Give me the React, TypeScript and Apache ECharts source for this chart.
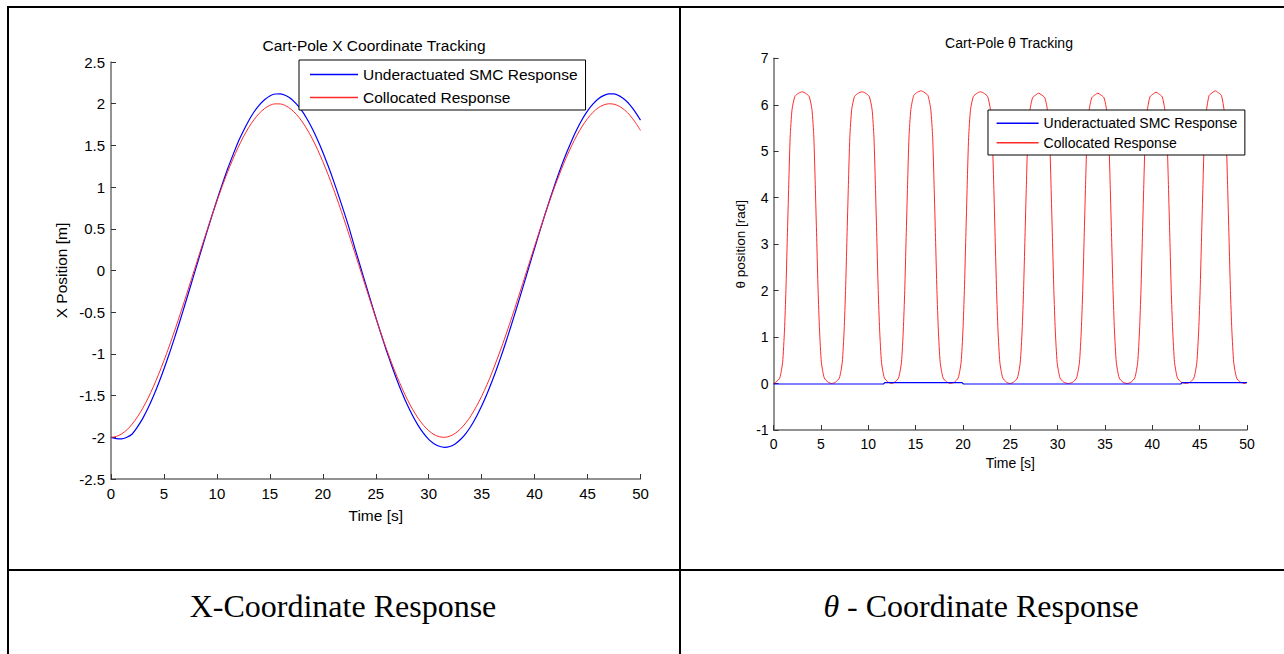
import React, { useEffect, useRef } from "react";
import * as echarts from "echarts";

const SANS = '"Liberation Sans", Arial, Helvetica, sans-serif';
const SERIF = '"Liberation Serif", "Times New Roman", Times, serif';

// ---------- data ----------
const SMC_NAME = "Underactuated SMC Response";
const COLLOC_NAME = "Collocated Response";
const legendNames = [SMC_NAME, COLLOC_NAME];

const leftTitle = "Cart-Pole X Coordinate Tracking";
const rightTitle = "Cart-Pole \u03b8 Tracking";
const leftCaption = "X-Coordinate Response";

// X coordinate chart (time step 0.5 s)
const timeX = [
  0, 0.5, 1, 1.5, 2, 2.5, 3, 3.5, 4, 4.5, 5, 5.5, 6, 6.5, 7, 7.5, 8, 8.5, 9, 9.5,
  10, 10.5, 11, 11.5, 12, 12.5, 13, 13.5, 14, 14.5, 15, 15.5, 16, 16.5, 17, 17.5, 18, 18.5, 19, 19.5,
  20, 20.5, 21, 21.5, 22, 22.5, 23, 23.5, 24, 24.5, 25, 25.5, 26, 26.5, 27, 27.5, 28, 28.5, 29, 29.5,
  30, 30.5, 31, 31.5, 32, 32.5, 33, 33.5, 34, 34.5, 35, 35.5, 36, 36.5, 37, 37.5, 38, 38.5, 39, 39.5,
  40, 40.5, 41, 41.5, 42, 42.5, 43, 43.5, 44, 44.5, 45, 45.5, 46, 46.5, 47, 47.5, 48, 48.5, 49, 49.5,
  50,
];
const xSMC = [
  -2.0, -2.015, -2.02, -2.0, -1.96, -1.875, -1.773, -1.649, -1.507, -1.351,
  -1.181, -0.999, -0.808, -0.608, -0.402, -0.192, 0.02, 0.231, 0.44, 0.645,
  0.843, 1.033, 1.215, 1.38, 1.539, 1.672, 1.795, 1.9, 1.984, 2.048,
  2.093, 2.116, 2.118, 2.099, 2.06, 1.997, 1.919, 1.82, 1.703, 1.568,
  1.419, 1.255, 1.081, 0.895, 0.703, 0.503, 0.28, 0.069, -0.143, -0.354,
  -0.561, -0.762, -0.956, -1.14, -1.313, -1.472, -1.617, -1.745, -1.857, -1.95,
  -2.024, -2.076, -2.108, -2.12, -2.11, -2.079, -2.027, -1.955, -1.864, -1.753,
  -1.626, -1.482, -1.323, -1.151, -0.968, -0.775, -0.574, -0.367, -0.157, 0.055,
  0.267, 0.475, 0.68, 0.876, 1.064, 1.242, 1.405, 1.557, 1.693, 1.813,
  1.913, 1.994, 2.057, 2.097, 2.118, 2.118, 2.094, 2.05, 1.987, 1.903,
  1.803,
];
const xCollocated = [
  -2.0, -1.99, -1.96, -1.911, -1.842, -1.755, -1.651, -1.53, -1.393, -1.243,
  -1.081, -0.907, -0.725, -0.535, -0.34, -0.141, 0.058, 0.258, 0.454, 0.647,
  0.832, 1.01, 1.177, 1.333, 1.475, 1.602, 1.714, 1.808, 1.884, 1.942,
  1.98, 1.998, 1.997, 1.975, 1.934, 1.873, 1.794, 1.696, 1.582, 1.452,
  1.307, 1.15, 0.981, 0.802, 0.615, 0.422, 0.224, 0.025, -0.175, -0.373,
  -0.567, -0.756, -0.937, -1.109, -1.269, -1.417, -1.551, -1.669, -1.771, -1.855,
  -1.92, -1.967, -1.993, -2.0, -1.986, -1.953, -1.9, -1.829, -1.739, -1.631,
  -1.508, -1.37, -1.217, -1.05, -0.877, -0.693, -0.503, -0.307, -0.108, 0.092,
  0.291, 0.487, 0.678, 0.863, 1.039, 1.204, 1.357, 1.497, 1.622, 1.731,
  1.822, 1.895, 1.95, 1.984, 1.999, 1.994, 1.969, 1.925, 1.861, 1.778,
  1.678,
];

// Theta chart, collocated response (pulse by pulse)
const thetaTime = [
  0, 0.25, 0.65, 0.95, 1.15, 1.3, 1.45, 1.6, 1.75, 1.95, 2.25, 2.65, 3.05, 3.35, 3.75, 4.05, 4.25, 4.4, 4.55, 4.7, 4.85, 5.05, 5.35, 5.75, 6.15,
  6.55, 6.95, 7.25, 7.45, 7.6, 7.75, 7.9, 8.05, 8.25, 8.55, 8.95, 9.35, 9.7, 10.1, 10.4, 10.6, 10.75, 10.9, 11.05, 11.2, 11.4, 11.7, 12.1, 12.45,
  12.8, 13.2, 13.5, 13.7, 13.85, 14.0, 14.15, 14.3, 14.5, 14.8, 15.2, 15.55, 15.9, 16.3, 16.6, 16.8, 16.95, 17.1, 17.25, 17.4, 17.6, 17.9, 18.3, 18.7,
  19.1, 19.5, 19.8, 20.0, 20.15, 20.3, 20.45, 20.6, 20.8, 21.1, 21.5, 21.85, 22.2, 22.6, 22.9, 23.1, 23.25, 23.4, 23.55, 23.7, 23.9, 24.2, 24.6, 24.97,
  25.35, 25.75, 26.05, 26.25, 26.4, 26.55, 26.7, 26.85, 27.05, 27.35, 27.75, 28.0, 28.25, 28.65, 28.95, 29.15, 29.3, 29.45, 29.6, 29.75, 29.95, 30.25, 30.65, 31.12,
  31.6, 32.0, 32.3, 32.5, 32.65, 32.8, 32.95, 33.1, 33.3, 33.6, 34.0, 34.25, 34.5, 34.9, 35.2, 35.4, 35.55, 35.7, 35.85, 36.0, 36.2, 36.5, 36.9, 37.33,
  37.75, 38.15, 38.45, 38.65, 38.8, 38.95, 39.1, 39.25, 39.45, 39.75, 40.15, 40.4, 40.65, 41.05, 41.35, 41.55, 41.7, 41.85, 42.0, 42.15, 42.35, 42.65, 43.05, 43.52,
  44.0, 44.4, 44.7, 44.9, 45.05, 45.2, 45.35, 45.5, 45.7, 46.0, 46.4, 46.65, 46.9, 47.3, 47.6, 47.8, 47.95, 48.1, 48.25, 48.4, 48.6, 48.9, 49.3, 49.8, 50,
];
const thetaCollocated = [
  0, 0.03, 0.12, 0.45, 1.15, 2.0, 3.14, 4.28, 5.3, 5.9, 6.18, 6.25, 6.28, 6.25, 6.18, 5.9, 5.3, 4.28, 3.14, 2.0, 1.15, 0.45, 0.12, 0.03, 0.0,
  0.03, 0.12, 0.45, 1.15, 2.0, 3.14, 4.28, 5.3, 5.9, 6.18, 6.25, 6.28, 6.25, 6.18, 5.9, 5.3, 4.28, 3.14, 2.0, 1.15, 0.45, 0.12, 0.03, 0.0,
  0.03, 0.12, 0.45, 1.15, 2.0, 3.14, 4.28, 5.3, 5.9, 6.2, 6.27, 6.3, 6.27, 6.2, 5.9, 5.3, 4.28, 3.14, 2.0, 1.15, 0.45, 0.12, 0.03, 0.0,
  0.03, 0.12, 0.45, 1.15, 2.0, 3.14, 4.28, 5.3, 5.9, 6.18, 6.25, 6.28, 6.25, 6.18, 5.9, 5.3, 4.28, 3.14, 2.0, 1.15, 0.45, 0.12, 0.03, 0.0,
  0.03, 0.12, 0.45, 1.15, 2.0, 3.14, 4.28, 5.3, 5.85, 6.15, 6.22, 6.25, 6.22, 6.15, 5.85, 5.3, 4.28, 3.14, 2.0, 1.15, 0.45, 0.12, 0.03, 0.0,
  0.03, 0.12, 0.45, 1.15, 2.0, 3.14, 4.28, 5.3, 5.85, 6.15, 6.22, 6.25, 6.22, 6.15, 5.85, 5.3, 4.28, 3.14, 2.0, 1.15, 0.45, 0.12, 0.03, 0.0,
  0.03, 0.12, 0.45, 1.15, 2.0, 3.14, 4.28, 5.3, 5.85, 6.17, 6.24, 6.27, 6.24, 6.17, 5.85, 5.3, 4.28, 3.14, 2.0, 1.15, 0.45, 0.12, 0.03, 0.0,
  0.03, 0.12, 0.45, 1.15, 2.0, 3.14, 4.28, 5.3, 5.85, 6.2, 6.27, 6.3, 6.27, 6.2, 5.85, 5.3, 4.28, 3.14, 2.0, 1.15, 0.45, 0.12, 0.03, 0.0, 0.03,
];

// Theta chart, underactuated SMC response (near zero, small steps)
const thetaSMCTime = [0, 11.6, 11.75, 19.9, 20.05, 43.0, 43.15, 50];
const thetaSMC = [-0.01, -0.01, 0.02, 0.02, -0.01, -0.01, 0.02, 0.02];

// ---------- helpers ----------
const pairs = (t: number[], v: number[]) => t.map((x, i) => [x, v[i]]);

const BLUE = "#0000ff";
const RED = "#ff2a2a";

function axisBase(labelSize: number, margin: number) {
  return {
    type: "value" as const,
    axisLine: { show: true, onZero: false, lineStyle: { color: "#6e6e6e", width: 1.5 } },
    axisTick: { show: true, inside: true, length: 5, lineStyle: { color: "#333", width: 1 } },
    splitLine: { show: false },
    axisLabel: { fontSize: labelSize, color: "#000", fontFamily: SANS, margin },
  };
}

function textEl(x: number, y: number, text: string, fontSize: number, fontFamily: string, extra: any = {}) {
  return {
    type: "text",
    x,
    y,
    style: {
      text,
      fontSize,
      fontFamily,
      fill: "#000",
      align: "center",
      verticalAlign: "middle",
      textAlign: "center",
      textVerticalAlign: "middle",
      ...extra,
    },
  };
}

export default function App() {
  const ref = useRef<HTMLDivElement>(null);

  useEffect(() => {
    if (!ref.current) return;
    const chart = echarts.init(ref.current, null, { renderer: "svg" });

    const option: any = {
      animation: false,
      backgroundColor: "#fff",
      grid: [
        { left: 111, top: 62, width: 529.5, height: 417, outerBoundsMode: "none", containLabel: false },
        { left: 773.6, top: 58.3, width: 473.4, height: 371.7, outerBoundsMode: "none", containLabel: false },
      ],
      xAxis: [
        {
          ...axisBase(15, 7),
          gridIndex: 0,
          min: 0,
          max: 50,
          interval: 5,
          name: "Time [s]",
          nameLocation: "middle",
          nameGap: 28,
          nameTextStyle: { fontSize: 15.5, color: "#000", fontFamily: SANS },
        },
        {
          ...axisBase(14, 7),
          gridIndex: 1,
          min: 0,
          max: 50,
          interval: 5,
          name: "Time [s]",
          nameLocation: "middle",
          nameGap: 25,
          nameTextStyle: { fontSize: 14, color: "#000", fontFamily: SANS },
        },
      ],
      yAxis: [
        {
          ...axisBase(15, 6),
          gridIndex: 0,
          min: -2.5,
          max: 2.5,
          interval: 0.5,
          name: "X Position [m]",
          nameLocation: "middle",
          nameRotate: 90,
          nameGap: 42,
          nameTextStyle: { fontSize: 15.5, color: "#000", fontFamily: SANS },
        },
        {
          ...axisBase(14, 5),
          gridIndex: 1,
          min: -1,
          max: 7,
          interval: 1,
          name: "\u03b8 position [rad]",
          nameLocation: "middle",
          nameRotate: 90,
          nameGap: 26,
          nameTextStyle: { fontSize: 13.5, color: "#000", fontFamily: SANS },
        },
      ],
      legend: [
        {
          data: legendNames,
          orient: "vertical",
          left: 299,
          top: 60,
          padding: [5.5, 8, 3.5, 11],
          itemWidth: 48,
          itemHeight: 1.5,
          itemGap: 5,
          icon: "rect",
          borderColor: "#000",
          borderWidth: 1,
          backgroundColor: "#fff",
          selectedMode: false,
          textStyle: { fontSize: 15.5, lineHeight: 18, color: "#000", fontFamily: SANS },
          z: 10,
        },
        {
          data: legendNames,
          orient: "vertical",
          left: 988,
          top: 110,
          padding: [5.3, 7.5, 4.3, 8.6],
          itemWidth: 42,
          itemHeight: 1.5,
          itemGap: 3.4,
          icon: "rect",
          borderColor: "#000",
          borderWidth: 1,
          backgroundColor: "#fff",
          selectedMode: false,
          textStyle: { fontSize: 14, lineHeight: 16, color: "#000", fontFamily: SANS },
          z: 10,
        },
      ],
      series: [
        {
          name: SMC_NAME,
          type: "line",
          xAxisIndex: 0,
          yAxisIndex: 0,
          data: pairs(timeX, xSMC),
          symbol: "none",
          showSymbol: false,
          smooth: 0.3,
          lineStyle: { color: BLUE, width: 1.2 },
          itemStyle: { color: BLUE },
        },
        {
          name: COLLOC_NAME,
          type: "line",
          xAxisIndex: 0,
          yAxisIndex: 0,
          data: pairs(timeX, xCollocated),
          symbol: "none",
          showSymbol: false,
          smooth: 0.3,
          lineStyle: { color: RED, width: 1 },
          itemStyle: { color: RED },
        },
        {
          name: COLLOC_NAME,
          type: "line",
          xAxisIndex: 1,
          yAxisIndex: 1,
          data: pairs(thetaTime, thetaCollocated),
          symbol: "none",
          showSymbol: false,
          smooth: 0.2,
          lineStyle: { color: RED, width: 1 },
          itemStyle: { color: RED },
        },
        {
          name: SMC_NAME,
          type: "line",
          xAxisIndex: 1,
          yAxisIndex: 1,
          data: pairs(thetaSMCTime, thetaSMC),
          symbol: "none",
          showSymbol: false,
          lineStyle: { color: BLUE, width: 1.2 },
          itemStyle: { color: BLUE },
        },
      ],
      graphic: {
        elements: [
          // table borders
          { type: "rect", shape: { x: 7, y: 6, width: 1277, height: 2 }, style: { fill: "#000" }, z: 0 },
          { type: "rect", shape: { x: 7, y: 6, width: 2, height: 648 }, style: { fill: "#000" }, z: 0 },
          { type: "rect", shape: { x: 679, y: 6, width: 2, height: 648 }, style: { fill: "#000" }, z: 0 },
          { type: "rect", shape: { x: 7, y: 569, width: 1277, height: 2 }, style: { fill: "#000" }, z: 0 },
          // chart titles
          textEl(374, 45, leftTitle, 15.5, SANS),
          textEl(1009, 42.5, rightTitle, 14, SANS),
          // captions
          textEl(343, 606, leftCaption, 32, SERIF),
          textEl(981, 606, "{i|\u03b8} - Coordinate Response", 32, SERIF, {
            rich: { i: { fontStyle: "italic", fontSize: 32, fontFamily: SERIF, fill: "#000" } },
          }),
        ],
      },
    };

    chart.setOption(option);
    return () => chart.dispose();
  }, []);

  return (
    <div
      ref={ref}
      style={{ position: "absolute", left: 0, top: 0, width: 1284, height: 654, background: "#fff" }}
    />
  );
}
